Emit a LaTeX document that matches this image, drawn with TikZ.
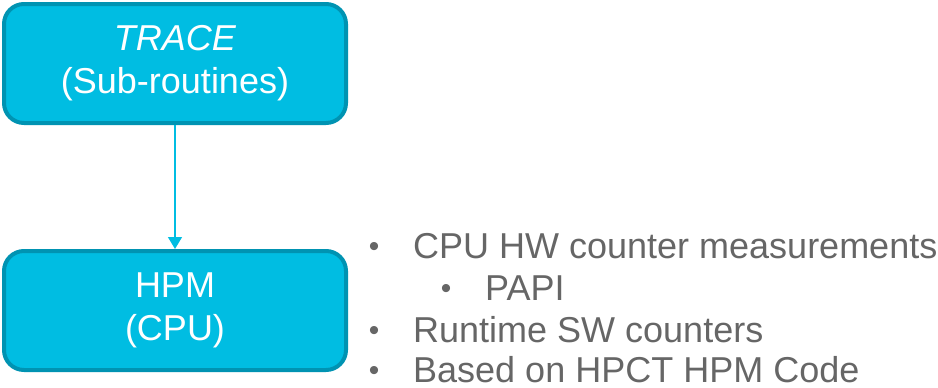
\documentclass[tikz,border=0pt]{standalone}
\usepackage{fontspec}
\setmainfont{Liberation Sans}
\usepackage{tikz}
\usetikzlibrary{positioning, arrows.meta}

\definecolor{boxfill}{HTML}{00BDE2}
\definecolor{boxline}{HTML}{0093B2}
\definecolor{listgray}{HTML}{666666}

\begin{document}
\begin{tikzpicture}[
    x=1pt, y=-1pt,
    node distance=124pt, % gap between the two boxes
    modbox/.style={draw=boxline, fill=boxfill, line width=4pt, rounded corners=20pt,
                   minimum width=342pt, minimum height=119pt, align=center,
                   text=white, font=\fontsize{36}{43}\selectfont},
    itemtext/.style={anchor=base west, inner sep=0pt, text depth=0pt, text=listgray, font=\fontsize{36}{43}\selectfont},
    dot/.style={anchor=base, inner sep=0pt, text=listgray, font=\fontsize{30}{36}\selectfont},
    arrowstyle/.style={-{Triangle[length=12pt, width=14pt]}, draw=boxfill, line width=1.5pt}
]
\useasboundingbox (0,0) rectangle (938,388);

\node[modbox] (trace) at (175,63.5) {\textit{TRACE}\\(Sub-routines)};
\node[modbox] (hpm) [below=of trace] {HPM\\(CPU)};

\draw[arrowstyle] (trace.south) -- (hpm.north);

% Bullet list next to HPM
\node[itemtext] (b1) at (413,258) {CPU HW counter measurements};
\node[itemtext] (b2) at (485,300) {PAPI};
\node[itemtext] (b3) at (413,342) {Runtime SW counters};
\node[itemtext] (b4) at (413,382) {Based on HPCT HPM Code};
\node[dot] (d1) at (374,256) {\textbullet};
\node[dot] (d2) at (446,298) {\textbullet};
\node[dot] (d3) at (374,340) {\textbullet};
\node[dot] (d4) at (374,380) {\textbullet};

\end{tikzpicture}
\end{document}
